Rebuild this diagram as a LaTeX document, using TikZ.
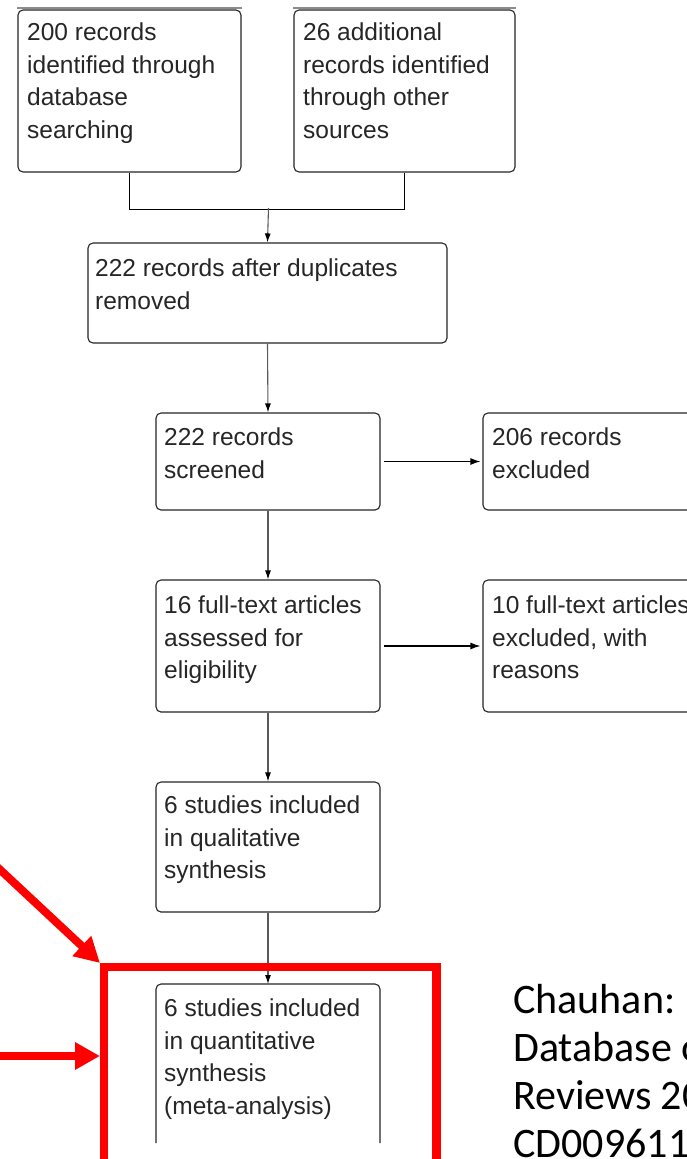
\documentclass[tikz,border=0pt]{standalone}
\usepackage{fontspec}
\setmainfont{Liberation Sans}
\newfontfamily\citefont{Carlito}
\usetikzlibrary{arrows.meta}
\tikzset{
  flowbox/.style={draw=black!85, line width=1.1bp, rounded corners=5bp, inner sep=0pt},
  boxtext/.style={anchor=north west, inner sep=0pt, align=left, text=black!85,
    font=\fontsize{24.6pt}{32.6pt}\selectfont},
  link/.style={draw=black!65, line width=1.1bp},
  varr/.style={link, -{Latex[length=9bp,width=6bp,color=black]}},
  harr/.style={draw=black, line width=1.3bp, -{Latex[length=10bp,width=7bp]}, shorten <=3bp, shorten >=2bp},
  redline/.style={draw=red, line width=8.5bp},
  redarrow/.style={draw=red, fill=red, line width=8bp, -{Triangle[length=25bp,width=26bp]}},
  topbar/.style={draw=black!45, line width=2.5bp},
}
\begin{document}
\begin{tikzpicture}[x=1bp,y=-1bp]
\useasboundingbox (0,0) rectangle (687,1159);
\fill[white] (0,0) rectangle (687,1159);
\clip (0,0) rectangle (687,1159);

% boxes
\node[flowbox, minimum width=223bp, minimum height=162bp] (b1) at (129.5,91) {};
\node[flowbox, minimum width=221bp, minimum height=162bp] (b2) at (404.5,91) {};
\draw[topbar] (17,8) -- (242,8);
\draw[topbar] (293,8) -- (516,8);
\node[flowbox, minimum width=359bp, minimum height=100bp] (b3) at (267.5,293) {};
\node[flowbox, minimum width=224bp, minimum height=97bp] (b4) at (268,461.5) {};
\node[flowbox, minimum width=224bp, minimum height=97bp] (b5) at (595,461.5) {};
\node[flowbox, minimum width=224bp, minimum height=132bp] (b6) at (268,646) {};
\node[flowbox, minimum width=224bp, minimum height=132bp] (b7) at (595,646) {};
\node[flowbox, minimum width=224bp, minimum height=130bp] (b8) at (268,847) {};
\draw[draw=black!85, line width=1.1bp, rounded corners=5bp] (156,1143) -- (156,984) -- (380,984) -- (380,1143);
\coordinate (b9) at (268,984);

% texts
\node[boxtext] (t1) at (27,23) {200 records\\identified through\\database\\searching};
\node[boxtext] (t2) at (303,23) {26 additional\\records identified\\through other\\sources};
\node[boxtext] (t3) at (95,259) {222 records after duplicates\\removed};
\node[boxtext] (t4) at (164,428) {222 records\\screened};
\node[boxtext] (t5) at (492,428) {206 records\\excluded};
\node[boxtext] (t6) at (164,596) {16 full-text articles\\assessed for\\eligibility};
\node[boxtext] (t7) at (492,596) {10 full-text articles\\excluded, with\\reasons};
\node[boxtext] (t8) at (164,796) {6 studies included\\in qualitative\\synthesis};
\node[boxtext] (t9) at (164,999) {6 studies included\\in quantitative\\synthesis\\(meta-analysis)};

% connectors
\coordinate (m) at (268.5,208);
\draw[draw=black, line width=1.6bp] (b1.south) -- ++(0,37) -| (b2.south);
\draw[varr] (m) -- (b3.north);
\draw[varr] (b3.south) -- (b4.north);
\draw[harr] (b4.east) -- (b5.west);
\draw[varr] (b4.south) -- (b6.north);
\draw[harr] (b6.east) -- (b7.west);
\draw[varr] (b6.south) -- (b8.north);
\draw[varr] (b8.south) -- (b9);

% red highlight
\draw[redline] (104,1175) -- (104,967) -- (436.5,967) -- (436.5,1175);
\coordinate (rc) at (100,963);
\coordinate (r1s) at (-6,864);
\draw[redarrow] (r1s) -- (rc);
\coordinate (r2s) at (-6,1056);
\coordinate (r2e) at (100,1056);
\draw[redarrow] (r2s) -- (r2e);

% citation
\node[anchor=north west, inner sep=0pt, align=left, text=black,
  font=\citefont\fontsize{42.2pt}{48.2pt}\selectfont] (cite) at (513,984)
  {Chauhan:\\Database of\\Reviews 20\\CD009611};
\end{tikzpicture}
\end{document}
